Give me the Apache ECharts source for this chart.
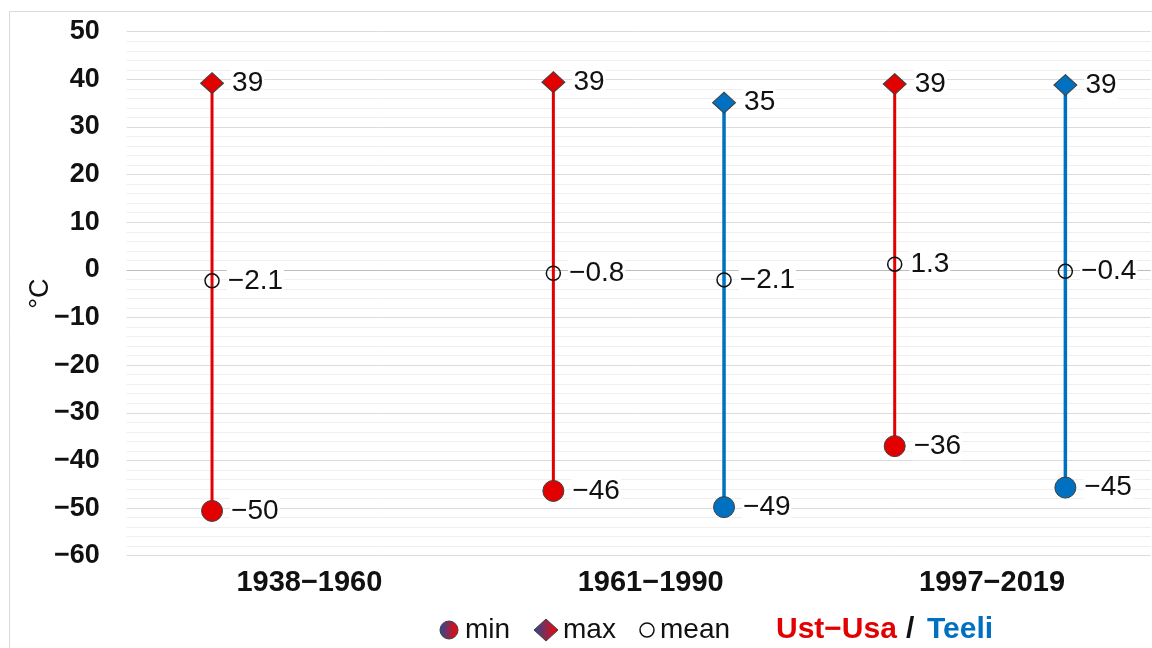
<!DOCTYPE html>
<html>
<head>
<meta charset="utf-8">
<script src="https://cdn.jsdelivr.net/npm/echarts@6/dist/echarts.min.js"></script>
<style>
html,body{margin:0;padding:0;background:#fff;}
#chart{width:1152px;height:648px;}
</style>
</head>
<body>
<div id="chart"></div>
<script>
// ---- data ----
const periods = ['1938−1960', '1961−1990', '1997−2019'];
const ustMax  = [39.2, 39.4, 39.0];
const ustMean = [-2.3, -0.7, 1.2];
const ustMin  = [-50.6, -46.4, -37.0];
const teeliMax  = [null, 35.1, 38.8];
const teeliMean = [null, -2.1, -0.3];
const teeliMin  = [null, -49.8, -45.7];
const ustMaxLabels  = ['39', '39', '39'];
const ustMeanLabels = ['−2.1', '−0.8', '1.3'];
const ustMinLabels  = ['−50', '−46', '−36'];
const teeliMaxLabels  = [null, '35', '39'];
const teeliMeanLabels = [null, '−2.1', '−0.4'];
const teeliMinLabels  = [null, '−49', '−45'];
const yMin = -60, yMax = 50, yStep = 10;

// ---- layout / style ----
const FONT = '"Liberation Sans", Arial, sans-serif';
const RED = '#E30000';
const BLUE = '#0070C0';
const periodX = [2, 6, 10];     // period slot centres on hidden x scale
const OFFSET = { ust: -1, teeli: 1 };

function pts(vals, labels, off) {
  const out = [];
  vals.forEach((v, i) => {
    if (v === null || v === undefined) return;
    out.push({ value: [periodX[i] + off, v], lbl: labels[i] });
  });
  return out;
}
function stems(mins, maxs, off) {
  const out = [];
  mins.forEach((v, i) => {
    if (v === null || maxs[i] === null) return;
    out.push([periodX[i] + off, v, maxs[i]]);
  });
  return out;
}
const labelCfg = {
  show: true, position: 'right', distance: 7,
  fontFamily: FONT, fontSize: 28, color: '#111',
  backgroundColor: '#fff', padding: [0, 1],
  formatter: p => p.data.lbl
};
function stemSeries(data, color, w) {
  return {
    type: 'custom', silent: true, z: 1,
    data: data,
    renderItem: (params, api) => {
      const a = api.coord([api.value(0), api.value(1)]);
      const b = api.coord([api.value(0), api.value(2)]);
      return { type: 'line', shape: { x1: a[0], y1: a[1], x2: b[0], y2: b[1] },
               style: { stroke: color, lineWidth: w } };
    }
  };
}
function markSeries(data, symbol, size, fill, border, bw) {
  return {
    type: 'scatter', z: 3, data: data, symbol: symbol, symbolSize: size,
    itemStyle: { color: fill, borderColor: border, borderWidth: bw, opacity: 1 },
    label: labelCfg, emphasis: { disabled: true }
  };
}
const grad = () => new echarts.graphic.LinearGradient(0, 0, 1, 0,
  [{ offset: 0, color: '#1F4E9A' }, { offset: 1, color: '#FF0000' }]);

const chart = echarts.init(document.getElementById('chart'), null, { renderer: 'canvas' });
chart.setOption({
  animation: false,
  backgroundColor: '#fff',
  grid: { left: 126.7, right: 1.3, top: 31.7, bottom: 92.3 },
  xAxis: {
    type: 'value', min: 0, max: 12,
    axisLine: { show: false }, axisTick: { show: false }, splitLine: { show: false },
    axisLabel: {
      customValues: periodX,
      formatter: v => periods[periodX.indexOf(v)] || '',
      fontFamily: FONT, fontSize: 29, fontWeight: 'bold', color: '#111',
      margin: 13, padding: [0, 0, 0, 24]
    }
  },
  yAxis: {
    type: 'value', min: yMin, max: yMax, interval: yStep,
    name: '°C', nameLocation: 'middle', nameRotate: 90, nameGap: 73,
    nameMoveOverlap: false,
    nameTextStyle: { fontFamily: FONT, fontSize: 27, color: '#111' },
    axisLine: { show: false }, axisTick: { show: false },
    axisLabel: {
      fontFamily: FONT, fontSize: 27, fontWeight: 'bold', color: '#111', margin: 27,
      formatter: v => v < 0 ? '−' + Math.abs(v) : String(v)
    },
    splitLine: { show: true, lineStyle: { color: '#dcdcdc', width: 1 } },
    minorTick: { show: false, splitNumber: 5 },
    minorSplitLine: { show: true, lineStyle: { color: '#efefef', width: 1 } }
  },
  series: [
    Object.assign(stemSeries(stems(ustMin, ustMax, OFFSET.ust), RED, 3), {
      markLine: { silent: true, symbol: 'none', label: { show: false }, z: 0,
        lineStyle: { color: '#bdbdbd', width: 1, type: 'solid' },
        data: [{ yAxis: 0 }] }
    }),
    stemSeries(stems(teeliMin, teeliMax, OFFSET.teeli), BLUE, 3.5),
    markSeries(pts(ustMin, ustMinLabels, OFFSET.ust), 'circle', 21, RED, '#404040', 1),
    markSeries(pts(ustMax, ustMaxLabels, OFFSET.ust), 'diamond', [23, 21], RED, '#404040', 1),
    markSeries(pts(ustMean, ustMeanLabels, OFFSET.ust), 'circle', 14, 'rgba(0,0,0,0)', '#111', 1.5),
    markSeries(pts(teeliMin, teeliMinLabels, OFFSET.teeli), 'circle', 21, BLUE, '#404040', 1),
    markSeries(pts(teeliMax, teeliMaxLabels, OFFSET.teeli), 'diamond', [23, 21], BLUE, '#404040', 1),
    markSeries(pts(teeliMean, teeliMeanLabels, OFFSET.teeli), 'circle', 14, 'rgba(0,0,0,0)', '#111', 1.5)
  ],
  graphic: [
    { type: 'rect', silent: true, z: -1,
      shape: { x: 9.5, y: 11.5, width: 1300, height: 800 },
      style: { fill: null, stroke: '#d9d9d9', lineWidth: 1 } },
    { type: 'circle', shape: { cx: 449, cy: 630, r: 9 },
      style: { fill: grad(), stroke: '#404040', lineWidth: 1 } },
    { type: 'text', x: 465, y: 630,
      style: { text: 'min', fontFamily: FONT, fontSize: 28, fill: '#111', verticalAlign: 'middle' } },
    { type: 'polygon', shape: { points: [[534, 630], [546, 619], [558, 630], [546, 641]] },
      style: { fill: grad(), stroke: '#404040', lineWidth: 1 } },
    { type: 'text', x: 563, y: 630,
      style: { text: 'max', fontFamily: FONT, fontSize: 28, fill: '#111', verticalAlign: 'middle' } },
    { type: 'circle', shape: { cx: 647, cy: 630, r: 7 },
      style: { fill: '#fff', stroke: '#111', lineWidth: 1.5 } },
    { type: 'text', x: 660, y: 630,
      style: { text: 'mean', fontFamily: FONT, fontSize: 28, fill: '#111', verticalAlign: 'middle' } },
    { type: 'text', x: 776, y: 630,
      style: { text: 'Ust−Usa', fontFamily: FONT, fontSize: 30, fontWeight: 'bold', fill: RED, verticalAlign: 'middle' } },
    { type: 'text', x: 906, y: 630,
      style: { text: '/', fontFamily: FONT, fontSize: 30, fontWeight: 'bold', fill: '#111', verticalAlign: 'middle' } },
    { type: 'text', x: 927, y: 630,
      style: { text: 'Teeli', fontFamily: FONT, fontSize: 30, fontWeight: 'bold', fill: BLUE, verticalAlign: 'middle' } }
  ]
});
</script>
</body>
</html>
